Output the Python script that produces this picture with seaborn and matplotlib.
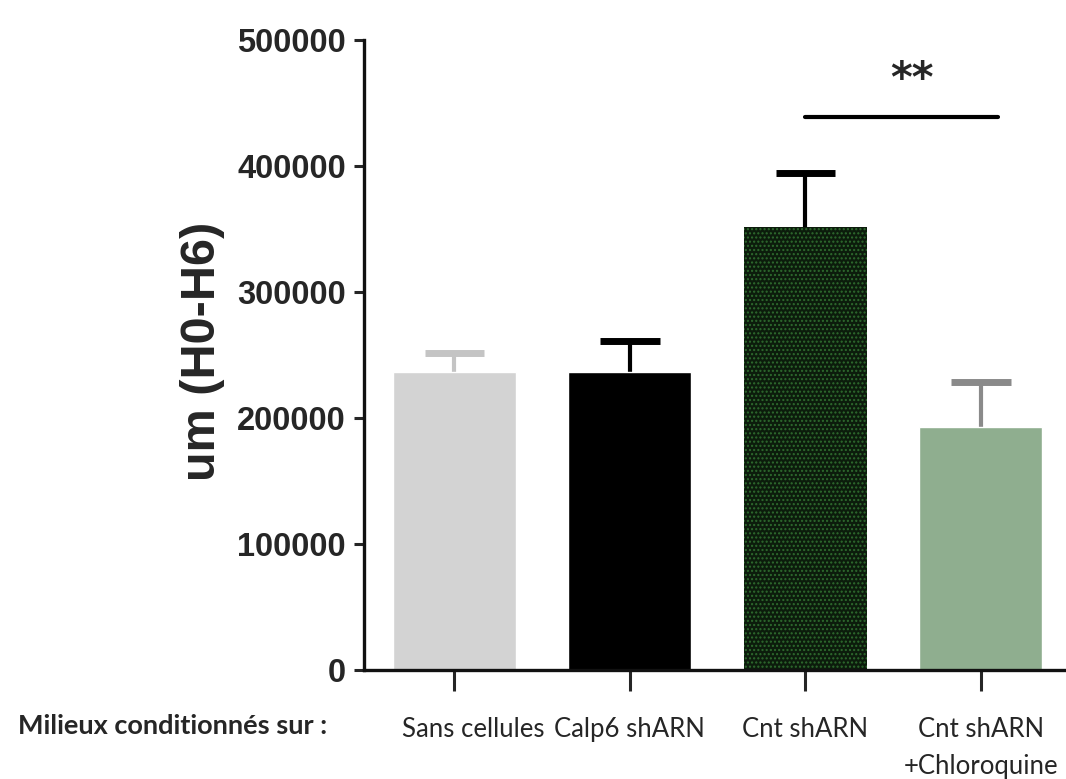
import pandas as pd
import numpy as np
import matplotlib
matplotlib.use("Agg")
import matplotlib.pyplot as plt
import matplotlib.transforms as mtransforms
import seaborn as sns

conditions = ["Sans cellules", "Calp6 shARN", "Cnt shARN", "Cnt shARN\n+Chloroquine"]
means = [236500, 236500, 351500, 193000]
sem = [15000, 24500, 43000, 35500]
bar_colors = ["#d3d3d3", "#000000", "#0c1c0c", "#8fae8f"]
err_colors = ["#c4c4c4", "#000000", "#000000", "#8a8a8a"]
y_ticks = [0, 100000, 200000, 300000, 400000, 500000]
sig_pair = (2.0, 3.1)
sig_level = 439000
sig_text = "**"


def main():
    df = pd.DataFrame({"condition": conditions, "value": means})

    sns.set_theme(style="ticks")
    plt.rcParams['font.family'] = ['Liberation Sans', 'DejaVu Sans']

    fig = plt.figure(figsize=(10.66, 7.79), dpi=100)
    ax = fig.add_axes([0.3415, 0.140, 0.6585, 0.8087])

    sns.barplot(
        data=df, x="condition", y="value", hue="condition",
        palette=bar_colors, errorbar=None, width=0.7,
        legend=False, ax=ax, saturation=1, zorder=2
    )

    # dotted fill for the third bar
    patch = ax.patches[2]
    patch.set_hatch("....")
    patch.set_edgecolor("#2e6b2e")
    patch.set_linewidth(0)

    # upper-only error bars (stem + cap)
    x = np.arange(len(means))
    tops = np.array(means) + np.array(sem)
    ax.vlines(x, means, tops, colors=err_colors, lw=3, zorder=1)
    ax.hlines(tops, x - 0.17, x + 0.17, colors=err_colors, lw=5, zorder=1)

    ax.set_xlim(-0.515, 3.485)
    ax.set_ylim(0, 500000)
    ax.set_yticks(y_ticks)
    ax.set_yticklabels([str(t) for t in y_ticks], fontsize=23.5, fontweight="bold")
    ax.set_xticks(range(len(conditions)))
    ax.set_xticklabels(conditions, fontsize=18.5, family=["Lato", "DejaVu Sans"],
                       linespacing=1.6)
    ax.tick_params(axis="y", length=7, width=2.2, pad=6)
    ax.tick_params(axis="x", length=15, width=2.2, pad=19)

    # the first label sits a bit right of its tick in the original
    lab0 = ax.get_xticklabels()[0]
    lab0.set_transform(lab0.get_transform() +
                       mtransforms.ScaledTranslation(0.19, 0, fig.dpi_scale_trans))

    ax.set_xlabel("")
    ax.set_ylabel("um (H0-H6)", fontsize=35, fontweight="bold")
    ax.yaxis.set_label_coords(-0.198, 0.505)

    sns.despine(ax=ax)
    for s in ["left", "bottom"]:
        ax.spines[s].set_linewidth(2.4)
        ax.spines[s].set_color("#111111")

    ax.plot(sig_pair, [sig_level, sig_level], color="black", lw=3, clip_on=False)
    ax.text(np.mean(sig_pair) + 0.06, sig_level + 29000, sig_text, ha="center", va="center",
            fontsize=30, fontweight="bold", family=["DejaVu Sans"])

    fig.text(0.017, 0.068, "Milieux conditionnés sur :", fontsize=19.5, fontweight="bold",
             family=["Lato", "DejaVu Sans"], va="center", ha="left")

    fig.savefig("out.png", dpi=100)
    plt.close(fig)


if __name__ == "__main__":
    main()
